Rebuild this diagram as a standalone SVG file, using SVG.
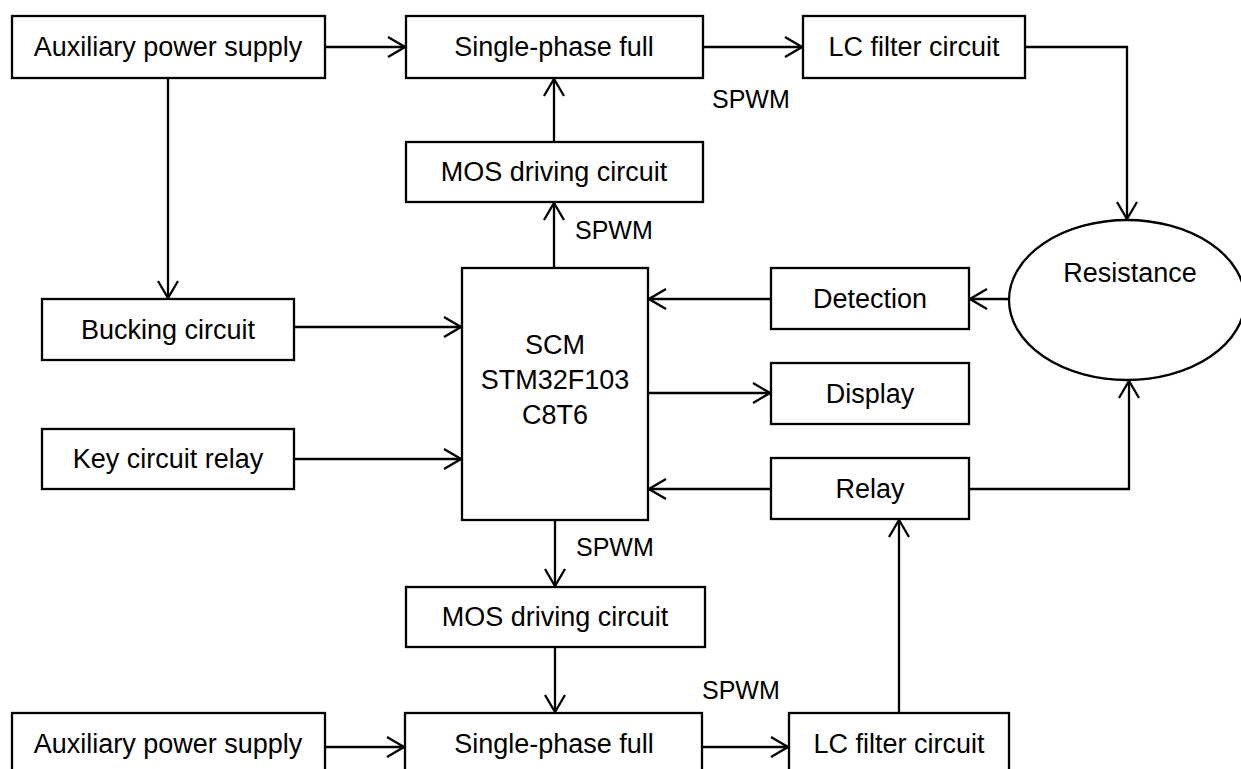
<svg xmlns="http://www.w3.org/2000/svg" width="1241" height="769" viewBox="0 0 1241 769">
<style>
.box{fill:#fff;stroke:#000;stroke-width:2.3}
.t{font-family:"Liberation Sans",Arial,sans-serif;font-size:27px;fill:#000;text-anchor:middle}
.l{font-family:"Liberation Sans",Arial,sans-serif;font-size:25px;fill:#000}
.c{fill:none;stroke:#000;stroke-width:2.3}
</style>
<defs>
<marker id="ah" markerUnits="userSpaceOnUse" viewBox="-20 -12 22 24" markerWidth="22" markerHeight="24" refX="0" refY="0" orient="auto">
<path d="M-17,-10 L0,0 L-17,10" fill="none" stroke="#000" stroke-width="2.3"/>
</marker>
</defs>
<rect width="1241" height="769" fill="#fff"/>
<g id="connectors">
<path class="c" d="M325,47 H405" marker-end="url(#ah)"/>
<path class="c" d="M703,47 H802" marker-end="url(#ah)"/>
<path class="c" d="M1025,47 H1127 V219" marker-end="url(#ah)"/>
<path class="c" d="M168,78 V298" marker-end="url(#ah)"/>
<path class="c" d="M554,142 V79" marker-end="url(#ah)"/>
<path class="c" d="M554,268 V203" marker-end="url(#ah)"/>
<path class="c" d="M294,327 H461" marker-end="url(#ah)"/>
<path class="c" d="M294,459 H461" marker-end="url(#ah)"/>
<path class="c" d="M1009,299 H970" marker-end="url(#ah)"/>
<path class="c" d="M771,299 H649" marker-end="url(#ah)"/>
<path class="c" d="M648,393 H770" marker-end="url(#ah)"/>
<path class="c" d="M771,489 H649" marker-end="url(#ah)"/>
<path class="c" d="M969,489 H1129 V381" marker-end="url(#ah)"/>
<path class="c" d="M555,520 V586" marker-end="url(#ah)"/>
<path class="c" d="M555,647 V712" marker-end="url(#ah)"/>
<path class="c" d="M325,747 H404" marker-end="url(#ah)"/>
<path class="c" d="M702,747 H788" marker-end="url(#ah)"/>
<path class="c" d="M899,713 V520" marker-end="url(#ah)"/>
<text class="l" x="712" y="108">SPWM</text>
<text class="l" x="575" y="239">SPWM</text>
<text class="l" x="576" y="556">SPWM</text>
<text class="l" x="702" y="699">SPWM</text>
</g>
<g id="aux1"><rect class="box" x="12" y="16" width="313" height="62"/><text class="t" x="168" y="56">Auxiliary power supply</text></g>
<g id="sp1"><rect class="box" x="406" y="16" width="297" height="62"/><text class="t" x="554" y="56">Single-phase full</text></g>
<g id="lc1"><rect class="box" x="803" y="16" width="222" height="62"/><text class="t" x="914" y="56">LC filter circuit</text></g>
<g id="mos1"><rect class="box" x="406" y="142" width="297" height="60"/><text class="t" x="554" y="181">MOS driving circuit</text></g>
<g id="buck"><rect class="box" x="42" y="299" width="252" height="61"/><text class="t" x="168" y="339">Bucking circuit</text></g>
<g id="key"><rect class="box" x="42" y="429" width="252" height="60"/><text class="t" x="168" y="468">Key circuit relay</text></g>
<g id="scm"><rect class="box" x="462" y="268" width="186" height="252"/><text class="t" x="555" y="354">SCM</text><text class="t" x="555" y="389">STM32F103</text><text class="t" x="555" y="424">C8T6</text></g>
<g id="det"><rect class="box" x="771" y="268" width="198" height="61"/><text class="t" x="870" y="308">Detection</text></g>
<g id="disp"><rect class="box" x="771" y="363" width="198" height="61"/><text class="t" x="870" y="403">Display</text></g>
<g id="relay"><rect class="box" x="771" y="458" width="198" height="61"/><text class="t" x="870" y="498">Relay</text></g>
<g id="res"><ellipse class="box" cx="1127" cy="300" rx="118" ry="80"/><text class="t" x="1130" y="282">Resistance</text></g>
<g id="mos2"><rect class="box" x="406" y="587" width="299" height="60"/><text class="t" x="555" y="626">MOS driving circuit</text></g>
<g id="aux2"><rect class="box" x="12" y="713" width="313" height="64"/><text class="t" x="168" y="753">Auxiliary power supply</text></g>
<g id="sp2"><rect class="box" x="405" y="713" width="297" height="64"/><text class="t" x="554" y="753">Single-phase full</text></g>
<g id="lc2"><rect class="box" x="789" y="713" width="220" height="64"/><text class="t" x="899" y="753">LC filter circuit</text></g>
</svg>
